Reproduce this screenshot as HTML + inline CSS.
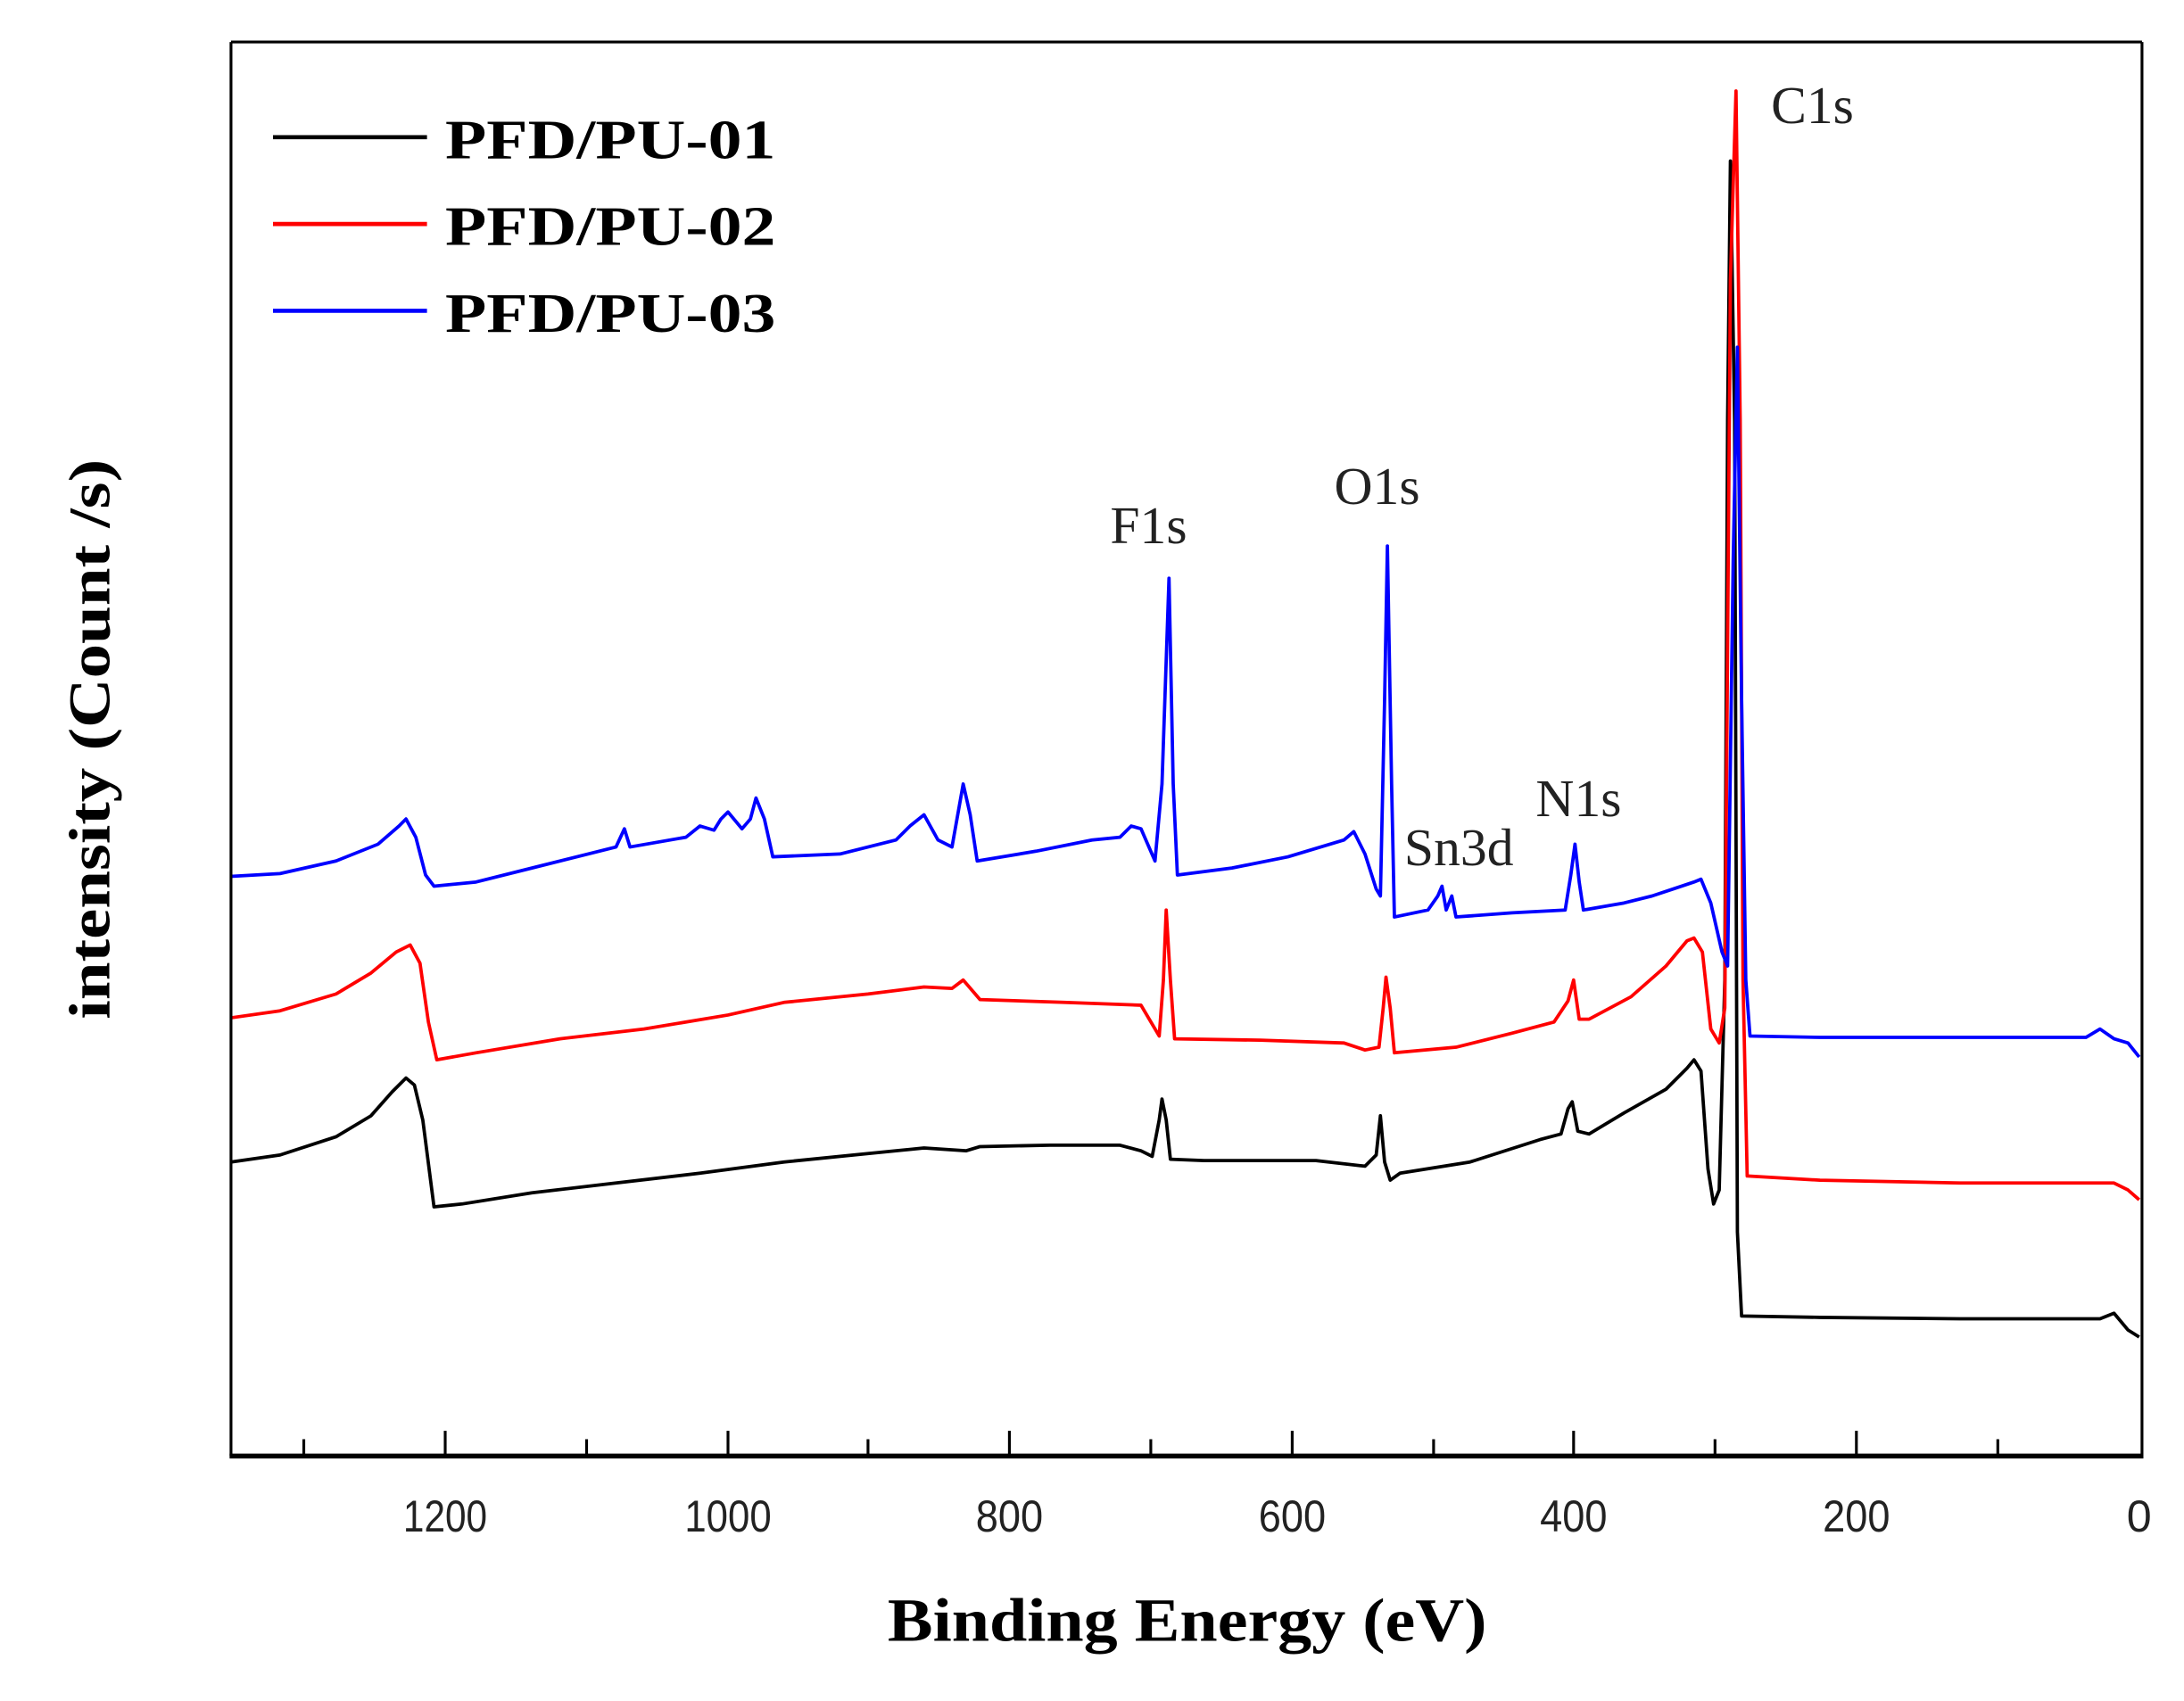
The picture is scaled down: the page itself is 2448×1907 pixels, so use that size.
<!DOCTYPE html>
<html><head><meta charset="utf-8"><style>html,body{margin:0;padding:0;background:#fff}svg{display:block}</style></head>
<body>
<svg width="2448" height="1907" viewBox="0 0 1560 1215" xmlns="http://www.w3.org/2000/svg" preserveAspectRatio="none">
<rect width="1560" height="1215" fill="#fff"/>
<g fill="none" stroke-linejoin="round">
<polyline stroke="#000" stroke-width="2.4" points="165,830 200,825 240,812 265,797 280,780 290,770 296,775 302,800 310,862 330,860 380,852 440,845 500,838 560,830 620,824 660,820 690,822 700,819 750,818 800,818 815,822 823,826 828,800 830,785 833,800 836,828 860,829 940,829 975,833 983,825 986,797 989,830 993,843 1000,838 1050,830 1100,814 1115,810 1120,792 1123,787 1127,808 1135,810 1160,795 1190,778 1205,763 1210,757 1215,765 1220,835 1224,860 1228,850 1232,700 1234,300 1236,115 1239,300 1241,880 1244,940 1300,941 1400,942 1500,942 1510,938 1520,950 1528,955"/>
<polyline stroke="#f00" stroke-width="2.4" points="165,727 200,722 240,710 265,695 283,680 293,675 300,688 306,730 312,757 340,752 400,742 460,735 520,725 560,716 620,710 660,705 680,706 688,700 700,714 760,716 815,718 828,740 831,700 833,650 836,700 839,742 900,743 960,745 975,750 985,748 988,720 990,698 993,720 996,752 1040,748 1080,738 1110,730 1120,715 1124,700 1128,728 1135,728 1165,712 1190,690 1205,672 1210,670 1216,680 1222,735 1228,745 1232,720 1236,200 1240,65 1243,300 1245,700 1248,840 1300,843 1400,845 1510,845 1520,850 1528,857"/>
<polyline stroke="#00f" stroke-width="2.4" points="165,626 200,624 240,615 270,603 285,590 290,585 297,598 304,625 310,633 340,630 380,620 420,610 440,605 446,592 450,605 490,598 500,590 510,593 515,585 520,580 530,592 536,585 540,570 546,585 552,612 600,610 640,600 650,590 660,582 670,600 680,605 688,560 693,582 698,615 740,608 780,600 800,598 808,590 815,592 825,615 830,560 835,413 838,560 841,625 880,620 920,612 960,600 967,594 975,610 983,635 986,640 989,500 991,390 994,560 996,655 1020,650 1027,640 1030,633 1033,650 1037,640 1040,655 1080,652 1118,650 1122,625 1125,603 1128,630 1131,650 1160,645 1180,640 1195,635 1210,630 1215,628 1222,645 1230,680 1234,690 1238,400 1241,248 1244,500 1247,700 1250,740 1300,741 1400,741 1490,741 1500,735 1510,742 1520,745 1528,755"/>
</g>
<g stroke="#000" fill="none">
<line x1="165" y1="30" x2="1530" y2="30" stroke-width="2"/>
<line x1="165" y1="30" x2="165" y2="1040" stroke-width="2"/>
<line x1="1530" y1="30" x2="1530" y2="1040" stroke-width="2"/>
<line x1="164" y1="1040" x2="1531" y2="1040" stroke-width="3.5"/>
<g stroke-width="2">
<line x1="217" y1="1040" x2="217" y2="1028"/><line x1="318" y1="1040" x2="318" y2="1022"/>
<line x1="419" y1="1040" x2="419" y2="1028"/><line x1="520" y1="1040" x2="520" y2="1022"/>
<line x1="620" y1="1040" x2="620" y2="1028"/><line x1="721" y1="1040" x2="721" y2="1022"/>
<line x1="822" y1="1040" x2="822" y2="1028"/><line x1="923" y1="1040" x2="923" y2="1022"/>
<line x1="1024" y1="1040" x2="1024" y2="1028"/><line x1="1124" y1="1040" x2="1124" y2="1022"/>
<line x1="1225" y1="1040" x2="1225" y2="1028"/><line x1="1326" y1="1040" x2="1326" y2="1022"/>
<line x1="1427" y1="1040" x2="1427" y2="1028"/>
</g>
</g>
<g font-family="Liberation Sans, sans-serif" font-size="32" fill="#222" text-anchor="middle">
<text x="318" y="1094" textLength="60" lengthAdjust="spacingAndGlyphs">1200</text>
<text x="520" y="1094" textLength="62" lengthAdjust="spacingAndGlyphs">1000</text>
<text x="721" y="1094" textLength="48" lengthAdjust="spacingAndGlyphs">800</text>
<text x="923" y="1094" textLength="48" lengthAdjust="spacingAndGlyphs">600</text>
<text x="1124" y="1094" textLength="48" lengthAdjust="spacingAndGlyphs">400</text>
<text x="1326" y="1094" textLength="48" lengthAdjust="spacingAndGlyphs">200</text>
<text x="1528" y="1094">0</text>
</g>
<text x="848" y="1172" font-family="Liberation Serif, serif" font-weight="bold" font-size="44" text-anchor="middle" textLength="428" lengthAdjust="spacingAndGlyphs">Binding Energy (eV)</text>
<text transform="translate(78,528) rotate(-90)" font-family="Liberation Serif, serif" font-weight="bold" font-size="42" text-anchor="middle" textLength="400" lengthAdjust="spacingAndGlyphs">intensity (Count /s)</text>
<g stroke-width="3">
<line x1="195" y1="98" x2="305" y2="98" stroke="#000"/>
<line x1="195" y1="160" x2="305" y2="160" stroke="#f00"/>
<line x1="195" y1="222" x2="305" y2="222" stroke="#00f"/>
</g>
<g font-family="Liberation Serif, serif" font-weight="bold" font-size="40" fill="#000">
<text x="318" y="113" textLength="236" lengthAdjust="spacingAndGlyphs">PFD/PU-01</text>
<text x="318" y="175" textLength="236" lengthAdjust="spacingAndGlyphs">PFD/PU-02</text>
<text x="318" y="237" textLength="236" lengthAdjust="spacingAndGlyphs">PFD/PU-03</text>
</g>
<g font-family="Liberation Serif, serif" font-size="38" fill="#222">
<text x="1265" y="88">C1s</text>
<text x="953" y="360">O1s</text>
<text x="793" y="388">F1s</text>
<text x="1003" y="618">Sn3d</text>
<text x="1097" y="583">N1s</text>
</g>
</svg>
</body></html>
